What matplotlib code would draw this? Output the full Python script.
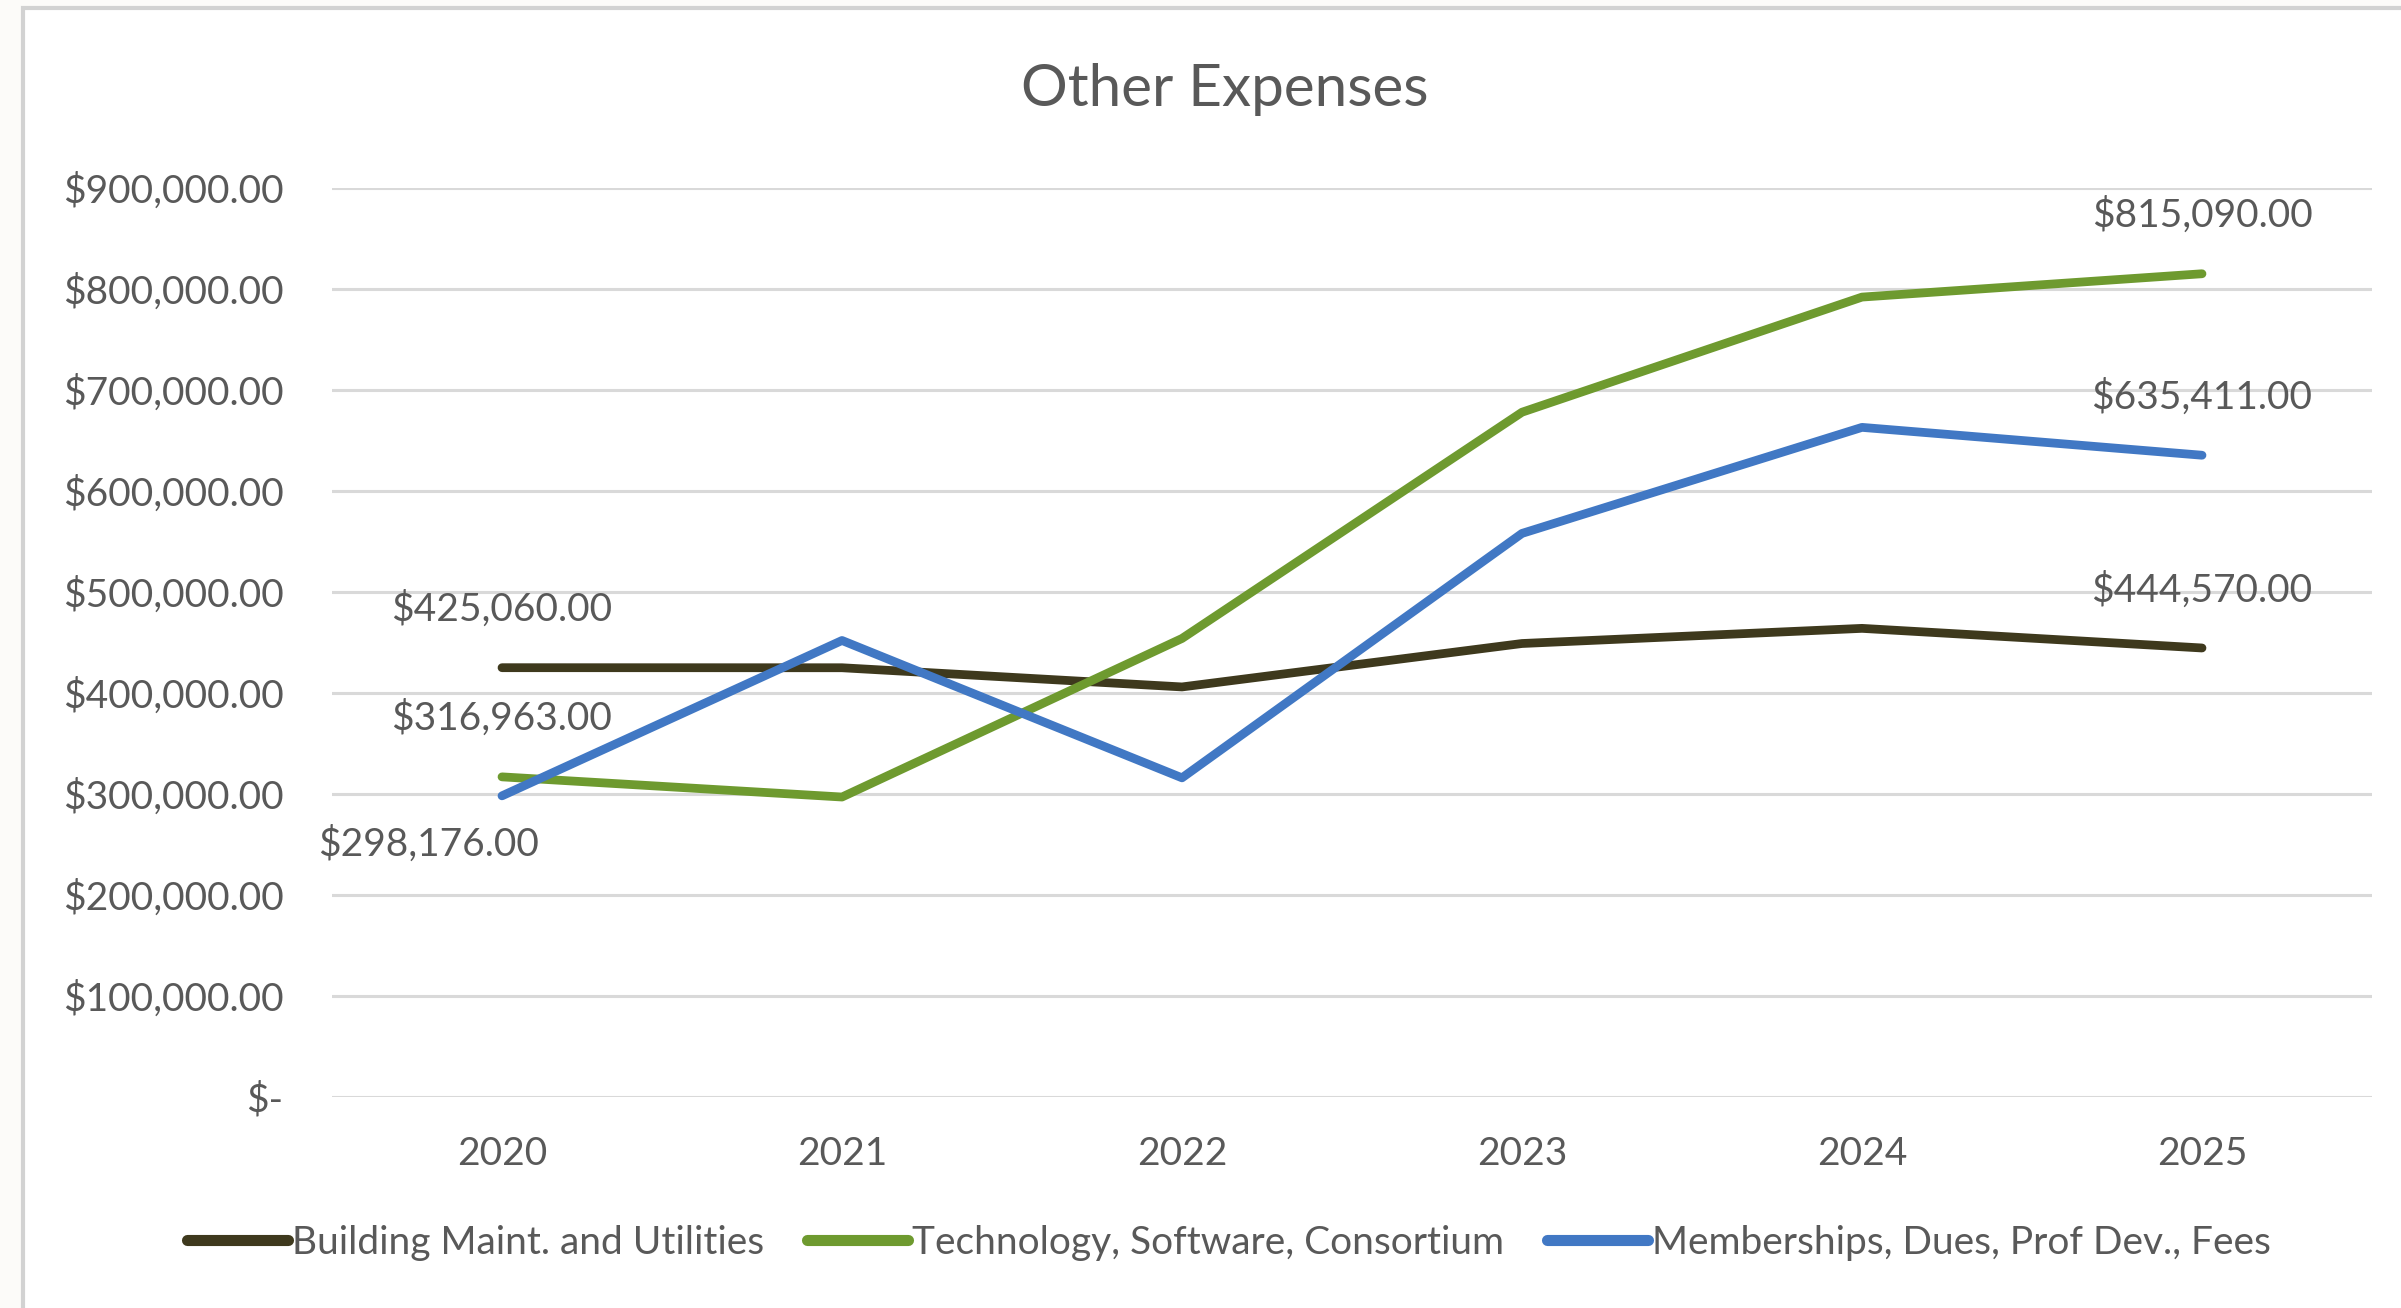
import matplotlib
matplotlib.use("Agg")
import matplotlib.pyplot as plt
from matplotlib.patches import Rectangle
from matplotlib.ticker import FuncFormatter

plt.rcParams['font.family'] = ['Lato', 'DejaVu Sans']

years = ['2020', '2021', '2022', '2023', '2024', '2025']
building = [425060, 425000, 406000, 449000, 464000, 444570]
tech = [316963, 297000, 454000, 678000, 792000, 815090]
members = [298176, 452000, 316000, 558000, 663000, 635411]
names = ['Building Maint. and Utilities', 'Technology, Software, Consortium',
         'Memberships, Dues, Prof Dev., Fees']
colors = ['#3e391d', '#6e9a2f', '#4178c4']
grey = '#595959'

fig = plt.figure(figsize=(24.01, 13.08), dpi=100, facecolor='#fcfbf9')
# white chart area with a thin grey frame
fig.patches.append(Rectangle((23 / 2401, -0.01), 1.0, 1 - 8 / 1308 + 0.01,
                             transform=fig.transFigure, facecolor='white',
                             edgecolor='#d2d2d2', linewidth=3, zorder=-10))

ax = fig.add_axes([332 / 2401, 1 - 1097 / 1308, 2040 / 2401, 909 / 1308])
ax.set_facecolor('none')
x = range(len(years))
for vals, name, c in zip([building, tech, members], names, colors):
    ax.plot(x, vals, color=c, linewidth=6.3, label=name, solid_capstyle='round')

ax.set_xlim(-0.5, len(years) - 0.5)
ax.set_ylim(0, 900000)
ax.set_yticks(range(0, 900001, 100000))
ax.yaxis.set_major_formatter(FuncFormatter(lambda v, p: '$-' if v == 0 else f'${v:,.2f}'))
ax.set_xticks(list(x))
ax.set_xticklabels(years)
ax.grid(axis='y', color='#d9d9d9', linewidth=2.2)
ax.set_axisbelow(True)
for s in ax.spines.values():
    s.set_visible(False)
ax.tick_params(axis='both', length=0, labelsize=28, labelcolor=grey)
ax.tick_params(axis='y', pad=35)
ax.tick_params(axis='x', pad=28)

# value labels at first and last year
def lab(xi, v, dx=0, dy=42):
    ax.annotate(f'${v:,.2f}', (xi, v), xytext=(dx, dy), textcoords='offset points',
                ha='center', va='center', fontsize=28, color=grey)

lab(0, building[0])
lab(0, tech[0])
lab(0, members[0], dx=-53, dy=-35)
lab(5, building[5])
lab(5, tech[5])
lab(5, members[5])

fig.text(1225 / 2401, 1 - 89 / 1308, 'Other Expenses', ha='center', va='center',
         fontsize=42, color=grey)

leg = fig.legend(loc='center', bbox_to_anchor=(1229 / 2401, 1 - 1243 / 1308), ncol=3,
                 frameon=False, fontsize=28, labelcolor=grey, handlelength=2.6,
                 handletextpad=0.1, columnspacing=1.1)
for h in leg.legend_handles:
    h.set_linewidth(8)

fig.savefig('out.png', dpi=100, facecolor=fig.get_facecolor())
